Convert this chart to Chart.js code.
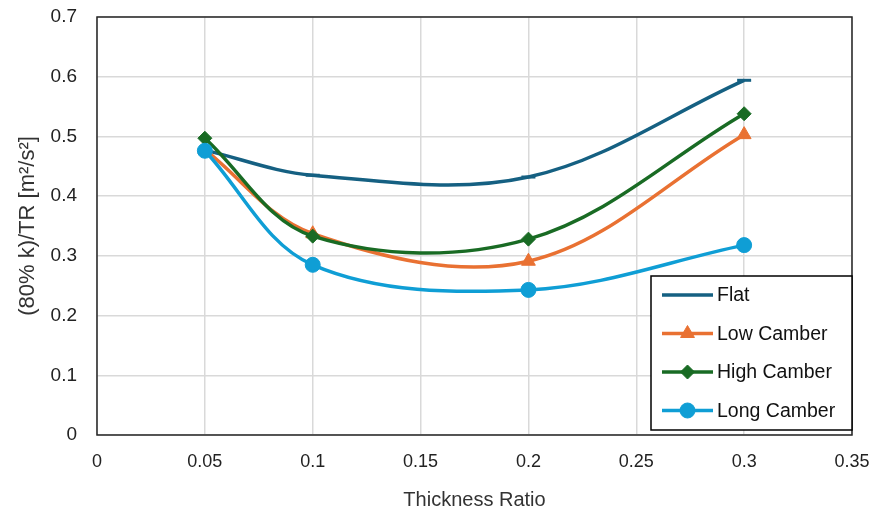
<!DOCTYPE html>
<html><head><meta charset="utf-8">
<script src="https://cdn.jsdelivr.net/npm/chart.js@4/dist/chart.umd.min.js"></script>
<style>html,body{margin:0;padding:0;background:#fff}#wrap{width:890px;height:516px;position:relative}</style>
</head><body><div id="wrap"><canvas id="c" width="890" height="516"></canvas></div>
<script>
const thickness = [0.05, 0.1, 0.2, 0.3];
const flat = [0.477, 0.435, 0.432, 0.594];
const lowCamber = [0.478, 0.337, 0.291, 0.503];
const highCamber = [0.497, 0.333, 0.328, 0.538];
const longCamber = [0.476, 0.285, 0.243, 0.318];
const seriesNames = ['Flat', 'Low Camber', 'High Camber', 'Long Camber'];
const xTickLabels = ['0', '0.05', '0.1', '0.15', '0.2', '0.25', '0.3', '0.35'];
const yTickLabels = ['0', '0.1', '0.2', '0.3', '0.4', '0.5', '0.6', '0.7'];
const xTitle = 'Thickness Ratio';
const yTitle = '(80% k)/TR [m²/s²]';

const colors = ['#156082', '#E97132', '#196B24', '#0F9ED5'];
const styles = ['line', 'triangle', 'rectRot', 'circle'];
const radii = [7, 8, 7, 7.5];
const FONT = "'Liberation Sans', Arial, sans-serif";

const allValues = [flat, lowCamber, highCamber, longCamber];
const datasets = allValues.map((vals, i) => ({
  label: seriesNames[i],
  data: thickness.map((x, j) => ({x: x, y: vals[j]})),
  showLine: true,
  borderColor: colors[i],
  backgroundColor: colors[i],
  borderWidth: 3.5,
  tension: 0.35,
  pointStyle: styles[i],
  pointRadius: radii[i],
  pointBorderWidth: i === 0 ? 3 : 1,
  pointBorderColor: colors[i],
  pointBackgroundColor: colors[i],
  order: 4 - i
}));

const frame = {
  id: 'frame',
  beforeDatasetsDraw(chart) {
    const a = chart.chartArea, ctx = chart.ctx;
    ctx.save();
    ctx.strokeStyle = '#262626';
    ctx.lineWidth = 1.5;
    ctx.strokeRect(a.left, a.top, a.right - a.left, a.bottom - a.top);
    ctx.restore();
  }
};

const legendBox = {
  id: 'legendBox',
  afterDatasetsDraw(chart) {
    const ctx = chart.ctx;
    const x0 = 651, y0 = 276, w = 201, h = 154;
    ctx.save();
    ctx.fillStyle = '#fff';
    ctx.fillRect(x0, y0, w, h);
    ctx.strokeStyle = '#000';
    ctx.lineWidth = 1.5;
    ctx.strokeRect(x0, y0, w, h);
    seriesNames.forEach((name, i) => {
      const y = 295 + i * 38.5;
      ctx.strokeStyle = colors[i];
      ctx.lineWidth = 3.5;
      ctx.beginPath();
      ctx.moveTo(662, y); ctx.lineTo(713, y); ctx.stroke();
      if (i > 0) {
        ctx.fillStyle = colors[i];
        ctx.strokeStyle = colors[i];
        ctx.lineWidth = 1;
        Chart.helpers.drawPoint(ctx, {pointStyle: styles[i], radius: radii[i], borderWidth: 1}, 687.5, y);
      }
      ctx.fillStyle = '#111';
      ctx.font = '19.5px ' + FONT;
      ctx.textBaseline = 'middle';
      ctx.textAlign = 'left';
      ctx.fillText(name, 717, y + 1);
    });
    ctx.restore();
  }
};

new Chart(document.getElementById('c'), {
  type: 'scatter',
  data: {datasets},
  options: {
    responsive: false,
    animation: false,
    layout: {padding: {top: 17, right: 38, left: 0, bottom: 0}},
    plugins: {legend: {display: false}, tooltip: {enabled: false}},
    scales: {
      x: {
        type: 'linear', min: 0, max: 0.35,
        ticks: {
          stepSize: 0.05, color: '#222', padding: 16,
          font: {family: FONT, size: 18},
          callback: (v, idx) => xTickLabels[idx]
        },
        grid: {color: '#d9d9d9', lineWidth: 1.5, drawTicks: false},
        border: {display: false},
        title: {display: true, text: xTitle, color: '#333', font: {family: FONT, size: 20}, padding: {top: 12}},
        afterFit(s) { s.height = 81; s.paddingLeft = 0; s.paddingRight = 0; }
      },
      y: {
        type: 'linear', min: 0, max: 0.7,
        ticks: {
          stepSize: 0.1, color: '#222', padding: 20,
          font: {family: FONT, size: 19},
          callback: (v, idx) => yTickLabels[idx]
        },
        grid: {color: '#d9d9d9', lineWidth: 1.5, drawTicks: false},
        border: {display: false},
        title: {display: true, text: yTitle, color: '#333', font: {family: FONT, size: 22}, padding: {top: 15, bottom: 4}},
        afterFit(s) { s.width = 97; s.paddingTop = 0; s.paddingBottom = 0; }
      }
    }
  },
  plugins: [frame, legendBox]
});
</script></body></html>
